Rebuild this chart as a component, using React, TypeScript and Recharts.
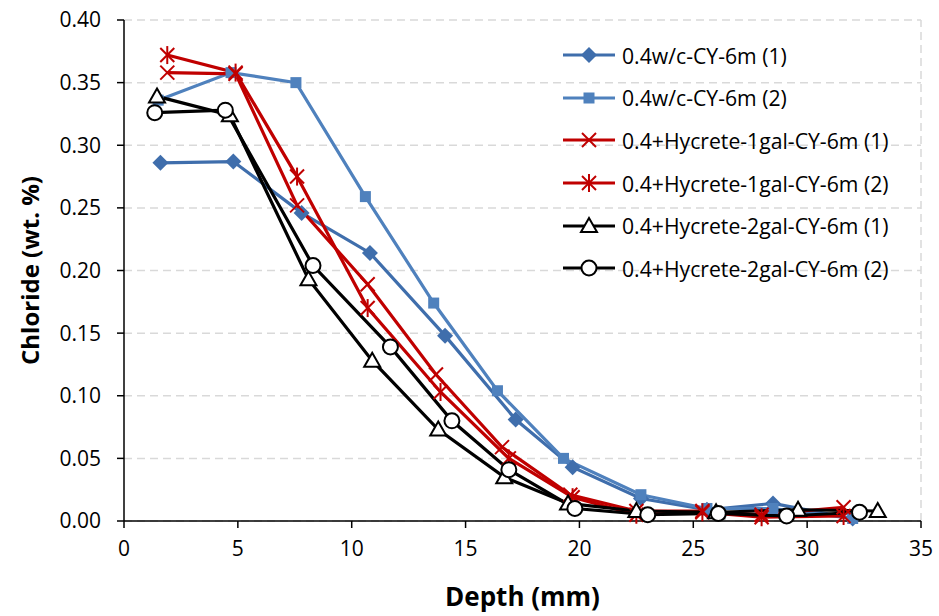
import { LineChart, Line, XAxis, YAxis, CartesianGrid, ReferenceLine } from 'recharts';

const FONT = '"Open Sans", sans-serif';

// depth (mm) / chloride (wt. %)
const depthA = [1.6, 4.8, 7.8, 10.8, 14.1, 17.2, 19.7, 22.7, 25.6, 28.5, 32.0];
const chlorA = [0.286, 0.287, 0.246, 0.214, 0.148, 0.081, 0.043, 0.018, 0.009, 0.014, 0.002];

const depthB = [1.5, 4.7, 7.55, 10.6, 13.6, 16.4, 19.3, 22.7, 25.6, 28.5, 32.0];
const chlorB = [0.336, 0.358, 0.35, 0.259, 0.174, 0.104, 0.05, 0.021, 0.01, 0.01, 0.002];

const depthC = [1.9, 4.9, 7.6, 10.7, 13.7, 16.6, 19.6, 22.5, 25.4, 28.0, 31.6];
const chlorC = [0.358, 0.357, 0.252, 0.189, 0.117, 0.059, 0.021, 0.008, 0.008, 0.005, 0.011];

const depthD = [1.9, 4.9, 7.6, 10.7, 13.9, 16.9, 19.7, 22.5, 25.4, 28.0, 31.6];
const chlorD = [0.372, 0.358, 0.275, 0.17, 0.103, 0.05, 0.019, 0.005, 0.007, 0.003, 0.004];

const depthE = [1.45, 4.65, 8.1, 10.9, 13.8, 16.7, 19.5, 22.5, 26.0, 29.6, 33.1];
const chlorE = [0.339, 0.324, 0.193, 0.128, 0.073, 0.035, 0.014, 0.008, 0.007, 0.009, 0.008];

const depthF = [1.35, 4.45, 8.3, 11.7, 14.4, 16.9, 19.8, 23.0, 26.1, 29.1, 32.3];
const chlorF = [0.326, 0.328, 0.204, 0.139, 0.08, 0.041, 0.01, 0.005, 0.006, 0.004, 0.007];

const xTicks = [0, 5, 10, 15, 20, 25, 30, 35];
const yTicks = [0, 0.05, 0.1, 0.15, 0.2, 0.25, 0.3, 0.35, 0.4];

type Shape = 'diamond' | 'square' | 'cross' | 'star' | 'triangle' | 'circle';

const toPoints = (xs: number[], ys: number[]) => xs.map((d, i) => ({ depth: d, value: ys[i] }));

const series: { name: string; color: string; shape: Shape; data: { depth: number; value: number }[] }[] = [
  { name: '0.4w/c-CY-6m (1)', color: '#3F6EAC', shape: 'diamond', data: toPoints(depthA, chlorA) },
  { name: '0.4w/c-CY-6m (2)', color: '#4F81BD', shape: 'square', data: toPoints(depthB, chlorB) },
  { name: '0.4+Hycrete-1gal-CY-6m (1)', color: '#C00000', shape: 'cross', data: toPoints(depthC, chlorC) },
  { name: '0.4+Hycrete-1gal-CY-6m (2)', color: '#C00000', shape: 'star', data: toPoints(depthD, chlorD) },
  { name: '0.4+Hycrete-2gal-CY-6m (1)', color: '#000000', shape: 'triangle', data: toPoints(depthE, chlorE) },
  { name: '0.4+Hycrete-2gal-CY-6m (2)', color: '#000000', shape: 'circle', data: toPoints(depthF, chlorF) },
];

function Marker({ cx, cy, shape, color }: { cx: number; cy: number; shape: Shape; color: string }) {
  if (cx == null || cy == null) return null;
  switch (shape) {
    case 'diamond':
      return <polygon points={`${cx},${cy - 8} ${cx + 8},${cy} ${cx},${cy + 8} ${cx - 8},${cy}`} fill={color} />;
    case 'square':
      return <rect x={cx - 5.5} y={cy - 5.5} width={11} height={11} fill={color} />;
    case 'cross':
      return (
        <g stroke={color} strokeWidth={2}>
          <line x1={cx - 7} y1={cy - 7} x2={cx + 7} y2={cy + 7} />
          <line x1={cx - 7} y1={cy + 7} x2={cx + 7} y2={cy - 7} />
        </g>
      );
    case 'star':
      return (
        <g stroke={color} strokeWidth={2}>
          <line x1={cx - 7} y1={cy - 7} x2={cx + 7} y2={cy + 7} />
          <line x1={cx - 7} y1={cy + 7} x2={cx + 7} y2={cy - 7} />
          <line x1={cx} y1={cy - 9} x2={cx} y2={cy + 9} />
        </g>
      );
    case 'triangle':
      return (
        <polygon
          points={`${cx},${cy - 8} ${cx + 8},${cy + 6} ${cx - 8},${cy + 6}`}
          fill="#fff"
          stroke={color}
          strokeWidth={2}
        />
      );
    case 'circle':
      return <circle cx={cx} cy={cy} r={7.5} fill="#fff" stroke={color} strokeWidth={2} />;
  }
  return null;
}

export default function App() {
  return (
    <div style={{ position: 'absolute', left: 0, top: 0, width: 939, height: 616, background: '#fff' }}>
      <LineChart width={939} height={616} margin={{ top: 20, right: 18, left: 60, bottom: 0 }}>
        <CartesianGrid vertical={false} stroke="#D9D9D9" strokeDasharray="8 5" strokeWidth={1.5} />
        <ReferenceLine x={35} stroke="#D9D9D9" strokeDasharray="8 5" strokeWidth={1.5} />
        <XAxis
          type="number"
          dataKey="depth"
          domain={[0, 35]}
          ticks={xTicks}
          allowDuplicatedCategory={false}
          height={95}
          stroke="#000"
          strokeWidth={1.5}
          tickSize={7}
          tickMargin={13}
          tick={{ fill: '#000', fontSize: 21, fontFamily: FONT }}
          label={{
            value: 'Depth (mm)',
            position: 'insideBottom',
            offset: 10,
            style: { fill: '#000', fontSize: 26, fontWeight: 'bold', fontFamily: FONT },
          }}
        />
        <YAxis
          type="number"
          domain={[0, 0.4]}
          ticks={yTicks}
          width={64}
          stroke="#000"
          strokeWidth={1.5}
          tickSize={7}
          tickMargin={16}
          tickFormatter={(v: number) => v.toFixed(2)}
          tick={{ fill: '#000', fontSize: 21, fontFamily: FONT }}
          label={{
            value: 'Chloride (wt. %)',
            angle: -90,
            position: 'left',
            offset: 30,
            style: { fill: '#000', fontSize: 24, fontWeight: 'bold', fontFamily: FONT, textAnchor: 'middle' },
          }}
        />
        {series.map((s) => (
          <Line
            key={s.name}
            data={s.data}
            dataKey="value"
            name={s.name}
            stroke={s.color}
            strokeWidth={3.2}
            isAnimationActive={false}
            dot={(p: any) => <Marker key={`${s.name}-${p.index}`} cx={p.cx} cy={p.cy} shape={s.shape} color={s.color} />}
            activeDot={false}
          />
        ))}
      </LineChart>
      <div
        style={{
          position: 'absolute',
          left: 558,
          top: 34,
          fontFamily: FONT,
          fontSize: 21.2,
          color: '#000',
          background: 'transparent',
        }}
      >
        {series.map((s) => (
          <div key={s.name} style={{ height: 42.6, display: 'flex', alignItems: 'center', whiteSpace: 'nowrap' }}>
            <svg width={60} height={24} style={{ marginRight: 4 }}>
              <line x1={5} y1={12} x2={57} y2={12} stroke={s.color} strokeWidth={3} />
              <Marker cx={31} cy={12} shape={s.shape} color={s.color} />
            </svg>
            <span>{s.name}</span>
          </div>
        ))}
      </div>
    </div>
  );
}
